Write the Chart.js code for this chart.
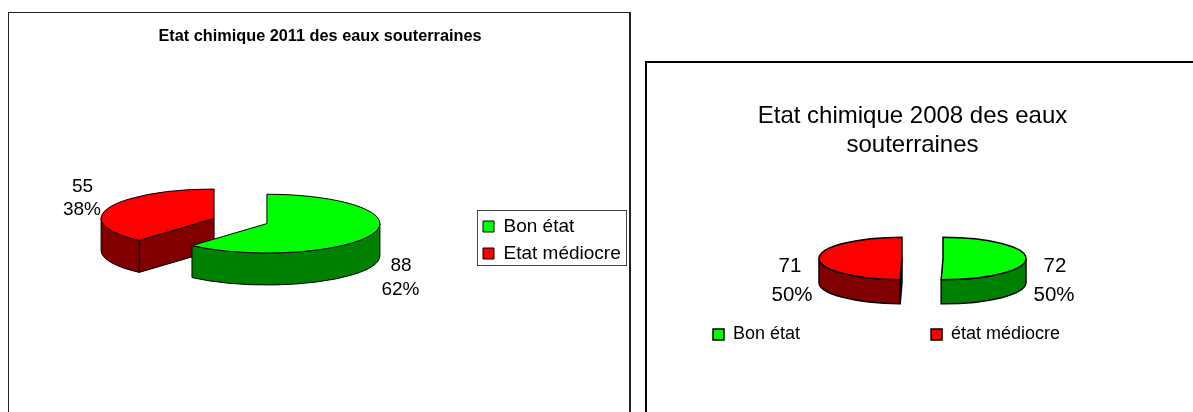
<!DOCTYPE html>
<html>
<head>
<meta charset="utf-8">
<script src="https://cdn.jsdelivr.net/npm/chart.js@4"></script>
<style>
  html, body { margin: 0; padding: 0; background: #fff; overflow: hidden; }
  canvas { position: absolute; top: 0; }
  .cadre { position: absolute; box-sizing: border-box; }
  #cadre2011 { left: 8px; top: 12px; width: 623px; height: 420px; border: 1px solid #222; border-left-width: 1.5px; border-right-width: 2px; }
  #cadre2008 { left: 645px; top: 61px; width: 570px; height: 400px; border: 2px solid #000; }
</style>
</head>
<body>
<div class="cadre" id="cadre2011"></div>
<div class="cadre" id="cadre2008"></div>
<canvas id="graph2011" width="640" height="412" style="left:0"></canvas>
<canvas id="graph2008" width="545" height="412" style="left:640px"></canvas>
<script>
const titre2011 = "Etat chimique 2011 des eaux souterraines";
const categories2011 = ["Bon état", "Etat médiocre"];
const valeurs2011 = [88, 55];

const titre2008 = ["Etat chimique 2008 des eaux", "souterraines"];
const categories2008 = ["Bon état", "état médiocre"];
const valeurs2008 = [72, 71];

const couleursDessus = ["#00ff00", "#ff0000"];
const couleursCote = ["#008000", "#800000"];

Chart.defaults.font.family = "'Liberation Sans', Arial, sans-serif";
Chart.defaults.color = "#000";

// centre d'une part une fois écartée
function centrePart(arc, o) {
  const mid = (arc.startAngle + arc.endAngle) / 2;
  const dec = arc.options.offset / 4;
  return {
    cx: arc.x + Math.cos(mid) * dec,
    cy: arc.y + Math.sin(mid) * dec * o.aplat
  };
}

// faces de côté d'une part, dessinées sous le dessus
function dessinerCote(ctx, arc, couleur, o) {
  const r = arc.outerRadius, ry = r * o.aplat, h = o.epaisseur;
  const { cx, cy } = centrePart(arc, o);
  ctx.fillStyle = couleur;
  ctx.strokeStyle = "#000";
  ctx.lineWidth = o.trait;

  // parois planes visibles
  const plan = (t) => {
    const x = cx + r * Math.cos(t), y = cy + ry * Math.sin(t);
    ctx.beginPath();
    ctx.moveTo(cx, cy);
    ctx.lineTo(x, y);
    ctx.lineTo(x, y + h);
    ctx.lineTo(cx, cy + h);
    ctx.closePath();
    ctx.fill();
    ctx.stroke();
  };
  if (Math.cos(arc.startAngle) < -0.001) plan(arc.startAngle);
  if (Math.cos(arc.endAngle) > 0.001) plan(arc.endAngle);

  // paroi courbe, seulement la moitié avant
  const a = Math.max(arc.startAngle, 0), b = Math.min(arc.endAngle, Math.PI);
  if (b > a) {
    ctx.beginPath();
    ctx.ellipse(cx, cy, r, ry, 0, a, b);
    ctx.ellipse(cx, cy + h, r, ry, 0, b, a, true);
    ctx.closePath();
    ctx.fill();
    ctx.stroke();
  }
}

const pie3d = {
  id: "pie3d",
  afterLayout(chart, args, o) {
    // centre du camembert
    const ca = chart.chartArea;
    ca.left = o.cx - o.r; ca.right = o.cx + o.r;
    ca.top = o.cy - o.r; ca.bottom = o.cy + o.r;
    ca.width = ca.height = o.r * 2;
    ca.w = ca.h = o.r * 2;
    // légende
    const lg = chart.legend, pad = lg.options.labels.padding;
    lg.left = o.legende.x - pad;
    lg.top = o.legende.y - pad - (lg.options.labels.font.size - lg.options.labels.boxHeight) / 2;
    lg.right = chart.width * 4;
    lg.bottom = chart.height * 4;
  },
  beforeDatasetsDraw(chart, args, o) {
    const ctx = chart.ctx, arcs = chart.getDatasetMeta(0).data;
    ctx.save();
    for (let i = arcs.length - 1; i >= 0; i--) {
      dessinerCote(ctx, arcs[i], couleursCote[i], o);
    }
    ctx.strokeStyle = "#000";
    ctx.lineWidth = o.trait;
    arcs.forEach((arc) => {
      const { cx, cy } = centrePart(arc, o);
      ctx.fillStyle = arc.options.backgroundColor;
      ctx.beginPath();
      ctx.moveTo(cx, cy);
      ctx.ellipse(cx, cy, arc.outerRadius, arc.outerRadius * o.aplat, 0, arc.startAngle, arc.endAngle);
      ctx.closePath();
      ctx.fill();
      ctx.stroke();
    });
    ctx.restore();
    return false;
  },
  afterDraw(chart, args, o) {
    const ctx = chart.ctx;
    const valeurs = chart.data.datasets[0].data;
    const total = valeurs.reduce((s, v) => s + v, 0);
    ctx.save();
    ctx.fillStyle = "#000";
    ctx.font = o.etiquettes.police + "px 'Liberation Sans', Arial, sans-serif";
    ctx.textAlign = "center";
    ctx.textBaseline = "middle";
    valeurs.forEach((v, i) => {
      const p = o.etiquettes.places[i];
      ctx.fillText(String(v), p[0], p[1]);
      ctx.fillText(Math.round(v / total * 100) + "%", p[2], p[3]);
    });
    if (o.cadreLegende) {
      const c = o.cadreLegende;
      ctx.strokeStyle = "#444";
      ctx.lineWidth = 1;
      ctx.strokeRect(c[0], c[1], c[2], c[3]);
    }
    ctx.restore();
  }
};

function etiquettesLegende(trait) {
  return (chart) => Chart.overrides.doughnut.plugins.legend.labels.generateLabels(chart)
    .map((item) => Object.assign(item, { strokeStyle: "#000", lineWidth: trait }));
}

new Chart(document.getElementById("graph2011"), {
  type: "pie",
  plugins: [pie3d],
  data: {
    labels: categories2011,
    datasets: [{
      data: valeurs2011,
      backgroundColor: couleursDessus,
      borderWidth: 0,
      offset: 113,
      radius: 113,
      clip: false
    }]
  },
  options: {
    responsive: false,
    animation: false,
    devicePixelRatio: 1,
    plugins: {
      tooltip: { enabled: false },
      title: {
        display: true,
        text: titre2011,
        color: "#000",
        font: { size: 16.3, weight: "bold" },
        padding: { top: 27, bottom: 0 }
      },
      legend: {
        position: "right",
        align: "start",
        labels: {
          boxWidth: 11,
          boxHeight: 11,
          padding: 8,
          color: "#000",
          font: { size: 19 },
          generateLabels: etiquettesLegende(1)
        }
      },
      pie3d: {
        cx: 240.5, cy: 221, r: 113, aplat: 0.26, epaisseur: 32, trait: 1,
        legende: { x: 483, y: 221 },
        cadreLegende: [477.5, 210.5, 149, 55],
        etiquettes: { police: 19, places: [[401, 266, 400.5, 290], [82.5, 187, 82, 210]] }
      }
    }
  }
});

new Chart(document.getElementById("graph2008"), {
  type: "pie",
  plugins: [pie3d],
  data: {
    labels: categories2008,
    datasets: [{
      data: valeurs2008,
      backgroundColor: couleursDessus,
      borderWidth: 0,
      offset: 82,
      radius: 83,
      clip: false
    }]
  },
  options: {
    responsive: false,
    animation: false,
    devicePixelRatio: 1,
    plugins: {
      tooltip: { enabled: false },
      title: {
        display: true,
        text: titre2008,
        color: "#000",
        font: { size: 24, weight: "normal" },
        padding: { top: 102, bottom: 0 }
      },
      legend: {
        position: "bottom",
        align: "start",
        labels: {
          boxWidth: 11,
          boxHeight: 11,
          padding: 131,
          color: "#000",
          font: { size: 18 },
          generateLabels: etiquettesLegende(1.5)
        }
      },
      pie3d: {
        cx: 282.5, cy: 258.5, r: 83, aplat: 0.256, epaisseur: 24, trait: 1.5,
        legende: { x: 73, y: 329 },
        etiquettes: { police: 20.5, places: [[415, 266, 414, 295], [150, 266, 152, 295]] }
      }
    }
  }
});
</script>
</body>
</html>
